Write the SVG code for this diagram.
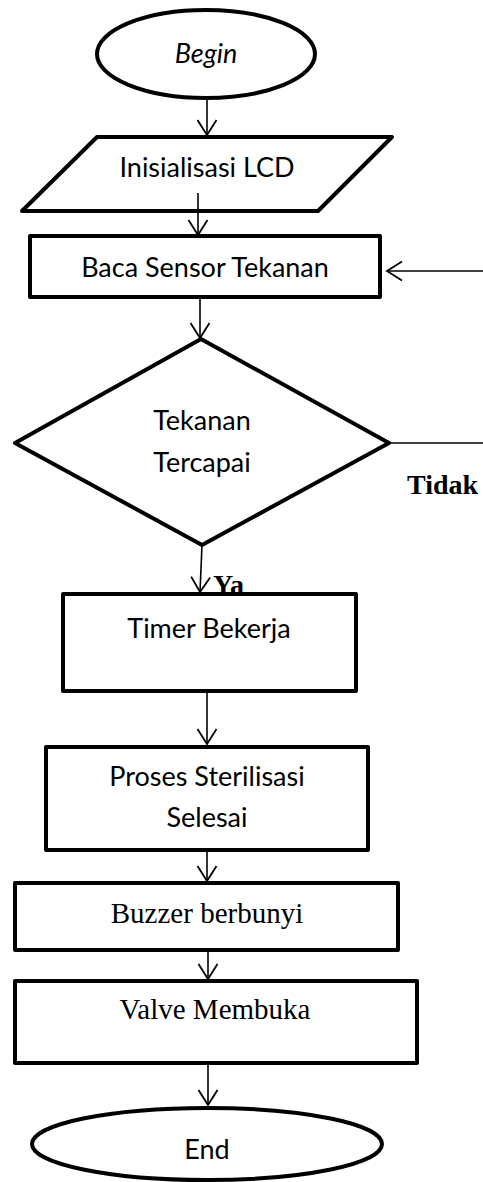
<svg xmlns="http://www.w3.org/2000/svg" width="483" height="1182" viewBox="0 0 483 1182">
<style>
.shape{fill:#fff;stroke:#000;stroke-width:4;stroke-linejoin:round}
.con{fill:none;stroke:#000;stroke-width:1.6}
.cal{font-family:Lato,"Open Sans",sans-serif;font-size:27px;fill:#000;text-anchor:middle}
.tim{font-family:"Liberation Serif","Times New Roman",serif;font-size:29px;fill:#000;text-anchor:middle}
.lbl{font-family:"Liberation Serif","Times New Roman",serif;font-size:28px;font-weight:bold;fill:#000}
</style>
<defs>
<marker id="arr" viewBox="-17 -11 19 22" markerWidth="19" markerHeight="22" refX="0" refY="0" orient="auto" markerUnits="userSpaceOnUse">
<path d="M-15,-9.5 L0,0 L-15,9.5" fill="none" stroke="#000" stroke-width="1.8"/>
</marker>
</defs>
<g id="connectors">
<line class="con" x1="207" y1="98" x2="207" y2="135" marker-end="url(#arr)"/>
<line class="con" x1="198" y1="193" x2="198" y2="235" marker-end="url(#arr)"/>
<line class="con" x1="200" y1="297" x2="200" y2="338" marker-end="url(#arr)"/>
<line class="con" x1="389" y1="443" x2="483" y2="443"/>
<line class="con" x1="483" y1="271" x2="387" y2="271" marker-end="url(#arr)"/>
<line class="con" x1="202" y1="545" x2="200" y2="592" marker-end="url(#arr)"/>
<line class="con" x1="207" y1="691" x2="207" y2="744" marker-end="url(#arr)"/>
<line class="con" x1="207" y1="850" x2="207" y2="881" marker-end="url(#arr)"/>
<line class="con" x1="208" y1="950" x2="208" y2="979" marker-end="url(#arr)"/>
<line class="con" x1="208" y1="1063" x2="208" y2="1105" marker-end="url(#arr)"/>
</g>
<g id="begin">
<ellipse class="shape" cx="206" cy="54" rx="109" ry="44"/>
<text class="cal" x="206" y="63" font-style="italic">Begin</text>
</g>
<g id="init">
<polygon class="shape" points="97,137 392,137 318,211 22,211" style="fill:none"/>
<text class="cal" x="207" y="177">Inisialisasi LCD</text>
</g>
<g id="baca">
<rect class="shape" x="30" y="236" width="350" height="61"/>
<text class="cal" x="205" y="277">Baca Sensor Tekanan</text>
</g>
<g id="decision">
<polygon class="shape" points="201,339 389,443 202,545 15,443"/>
<text class="cal" x="202" y="430">Tekanan</text>
<text class="cal" x="202" y="472">Tercapai</text>
</g>
<text class="lbl" x="407" y="494">Tidak</text>
<text class="lbl" x="213" y="594">Ya</text>
<g id="timer">
<rect class="shape" x="63" y="594" width="293" height="97"/>
<text class="cal" x="209" y="638">Timer Bekerja</text>
</g>
<g id="proses">
<rect class="shape" x="46" y="747" width="322" height="103"/>
<text class="cal" x="207" y="786">Proses Sterilisasi</text>
<text class="cal" x="207" y="827">Selesai</text>
</g>
<g id="buzzer">
<rect class="shape" x="15" y="883" width="383" height="67"/>
<text class="tim" x="207" y="923">Buzzer berbunyi</text>
</g>
<g id="valve">
<rect class="shape" x="15" y="981" width="402" height="82"/>
<text class="tim" x="215" y="1019">Valve Membuka</text>
</g>
<g id="end">
<ellipse class="shape" cx="207" cy="1144" rx="175" ry="36"/>
<text class="cal" x="207" y="1159">End</text>
</g>
</svg>
